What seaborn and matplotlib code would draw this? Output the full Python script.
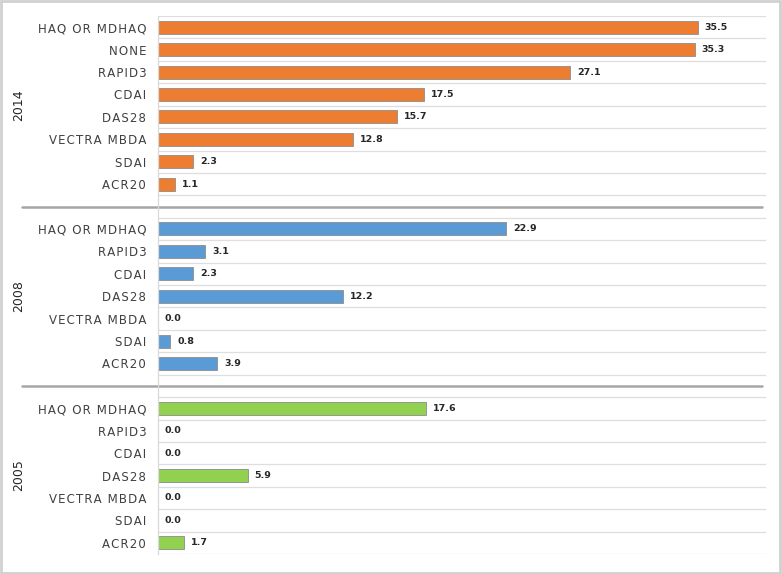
"""Uso de instrumentos de avaliação por ano (2014, 2008, 2005)."""
import pandas as pd
import seaborn as sns
import matplotlib.pyplot as plt
from matplotlib.patches import Rectangle

# Dados
years = ["2014", "2008", "2005"]
measures_2014 = ["HAQ OR MDHAQ", "NONE", "RAPID3", "CDAI", "DAS28", "VECTRA MBDA", "SDAI", "ACR20"]
values_2014 = [35.5, 35.3, 27.1, 17.5, 15.7, 12.8, 2.3, 1.1]
measures_2008 = ["HAQ OR MDHAQ", "RAPID3", "CDAI", "DAS28", "VECTRA MBDA", "SDAI", "ACR20"]
values_2008 = [22.9, 3.1, 2.3, 12.2, 0.0, 0.8, 3.9]
measures_2005 = ["HAQ OR MDHAQ", "RAPID3", "CDAI", "DAS28", "VECTRA MBDA", "SDAI", "ACR20"]
values_2005 = [17.6, 0.0, 0.0, 5.9, 0.0, 0.0, 1.7]

colors = {"2014": "#ED7D31", "2008": "#5B9BD5", "2005": "#92D050"}

groups = [("2014", measures_2014, values_2014),
          ("2008", measures_2008, values_2008),
          ("2005", measures_2005, values_2005)]

# Monta a tabela e a ordem das categorias (com uma linha vazia entre anos)
rows = []
order = []
labels = []
blank_slots = []
for i, (year, measures, values) in enumerate(groups):
    if i > 0:
        blank_slots.append(len(order))
        order.append("blank%d" % i)
        labels.append("")
    for m, v in zip(measures, values):
        key = year + "|" + m
        rows.append({"key": key, "value": v, "year": year})
        order.append(key)
        labels.append(m)
df = pd.DataFrame(rows)

sns.set_style("white")
plt.rcParams["font.family"] = ["DejaVu Sans"]

fig = plt.figure(figsize=(7.82, 5.74), dpi=100)
ax = fig.add_axes([158 / 782, 1 - 554 / 574, 608 / 782, 538 / 574])

sns.barplot(data=df, x="value", y="key", hue="year", order=order,
            palette=colors, saturation=1, dodge=False, width=0.58, orient="h",
            edgecolor="#8c8c8c", linewidth=0.6, legend=False, ax=ax)

# Rótulos de valor
for cont in ax.containers:
    ax.bar_label(cont, fmt="%.1f", padding=5, fontsize=6.8,
                 fontweight="bold", color="#262626")

n = len(order)
ax.set_xlim(0, 40)
ax.set_ylim(n - 0.5, -0.5)

# Linhas de grade entre as categorias
for i in range(n + 1):
    ax.axhline(i - 0.5, color="#dedede", lw=0.9, zorder=0)

# Separadores entre anos
for s in blank_slots:
    ax.plot([-0.224, 0.994], [s, s], transform=ax.get_yaxis_transform(),
            color="#a6a6a6", lw=1.8, clip_on=False, zorder=1)

ax.set_yticks(range(n))
ax.set_yticklabels(["\u200a".join(l) for l in labels], fontsize=8.5, color="#404040")
ax.tick_params(axis="y", length=0, pad=8.5)
ax.set_xticks([])
ax.set_xlabel("")
ax.set_ylabel("")
for side in ["top", "right", "bottom"]:
    ax.spines[side].set_visible(False)
ax.spines["left"].set_color("#d9d9d9")
ax.spines["left"].set_linewidth(0.9)

# Nome dos anos à esquerda
start = 0
for i, (year, measures, values) in enumerate(groups):
    if i > 0:
        start += 1
    mid = start + (len(measures) - 1) / 2
    ax.text(-0.23, mid, year, transform=ax.get_yaxis_transform(), rotation=90,
            ha="center", va="center", fontsize=9, color="#262626")
    start += len(measures)

# Moldura da figura
fig.patches.append(Rectangle((0.001, 0.002), 0.997, 0.996, transform=fig.transFigure,
                             fill=False, edgecolor="#d0d0d0", lw=2))

plt.savefig("out.png", dpi=100)
